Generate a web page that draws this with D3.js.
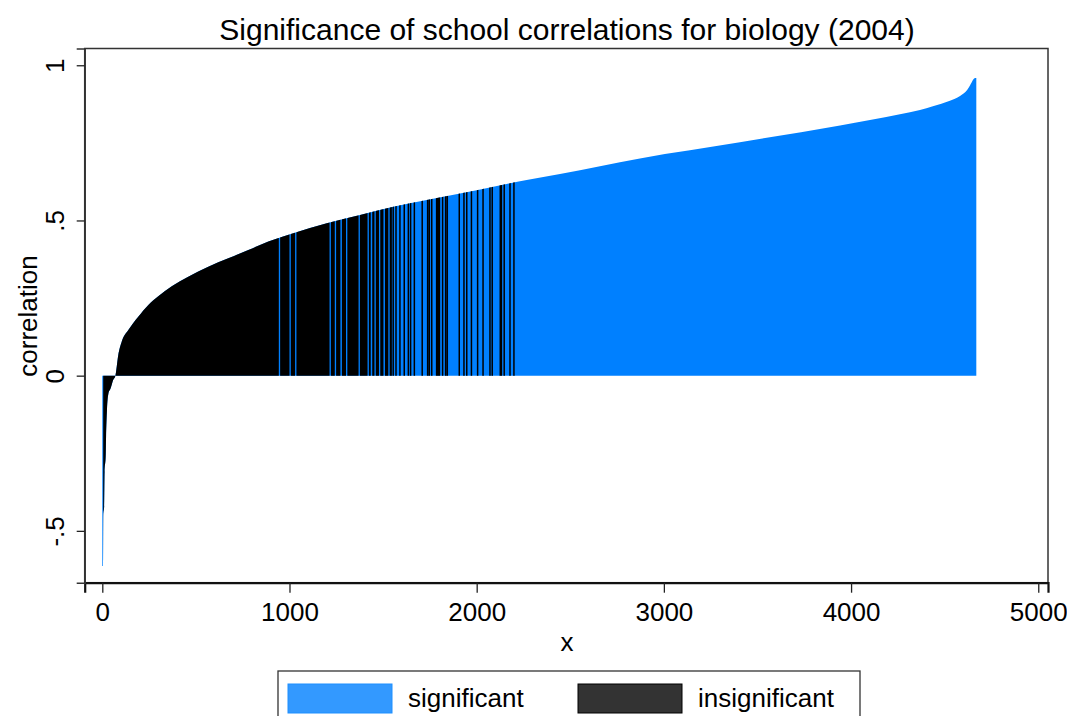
<!DOCTYPE html>
<html><head><meta charset="utf-8">
<script src="https://cdn.jsdelivr.net/npm/d3@7"></script>
<style>
body{margin:0;background:#fff}
svg{display:block}
text{font-family:Arial,"Liberation Sans",sans-serif;fill:#000}
</style>
</head><body>
<svg id="chart" width="1067" height="716"></svg>
<script>
// ---- data ----
const titleText = "Significance of school correlations for biology (2004)";
const xTitle = "x";
const yTitle = "correlation";

// sorted correlations: school rank -> correlation (outline of the bars)
const curveRanks  = [0, 4, 5, 10, 12, 18, 20, 25, 32, 45, 58, 70,
  85, 104, 139, 192, 246, 299, 371, 459, 566, 673, 780, 887, 1020, 1199,
  1377, 1554, 1733, 1911, 2089, 2267, 2445, 2872, 3406, 3941, 4261, 4368,
  4437, 4528, 4582, 4620, 4636, 4663, 4669];
const curveValues = [-0.613, -0.613, -0.45, -0.42, -0.31, -0.26, -0.20, -0.11, -0.06, -0.04, -0.014, 0.0,
  0.065, 0.11, 0.147, 0.19, 0.228, 0.256, 0.288, 0.319, 0.351, 0.378, 0.405, 0.432, 0.459, 0.491,
  0.518, 0.544, 0.566, 0.587, 0.609, 0.63, 0.65, 0.70, 0.752, 0.806, 0.842, 0.856,
  0.868, 0.886, 0.901, 0.92, 0.936, 0.959, 0.959];

// ranges of ranks whose correlation is insignificant (drawn black)
const insignificantStart = [5, 950, 1007, 1037, 1221, 1249, 1280, 1309, 1376, 1424, 1442, 1461, 1485, 1510, 1535,
  1550, 1565, 1586, 1609, 1631, 1643, 1663, 1705, 1734, 1743, 1756, 1782, 1814, 1830, 1839,
  1903, 1928, 1943, 1968, 2001, 2030, 2067, 2079, 2122, 2143, 2174, 2195];
const insignificantEnd   = [943, 1000, 1030, 1214, 1242, 1272, 1302, 1369, 1417, 1434, 1454, 1478, 1502, 1528, 1547,
  1558, 1573, 1594, 1617, 1639, 1651, 1671, 1713, 1742, 1751, 1764, 1805, 1822, 1838, 1847,
  1911, 1936, 1951, 1976, 2009, 2038, 2075, 2087, 2136, 2151, 2182, 2203];

const xTickValues = [0, 1000, 2000, 3000, 4000, 5000];
const yTickValues = [-0.5, 0, 0.5, 1];
const yTickLabels = ["-.5", "0", ".5", "1"];
const legendLabels = ["significant", "insignificant"];
const legendColors = ["#3399ff", "#333333"];

// ---- chart ----
const svg = d3.select("#chart");
const plot = {left: 84.7, right: 1048, top: 48.5, bottom: 582.7};
const BLUE = "#0080ff";

const x = d3.scaleLinear().domain([-94, 5052]).range([plot.left, plot.right]);
const y = d3.scaleLinear().domain([-0.667, 1.054]).range([plot.bottom, plot.top]);

const curve = curveRanks.map((r, i) => ({r, v: curveValues[i]}));
const area = d3.area()
  .x(d => x(d.r))
  .y0(y(0))
  .y1(d => y(d.v))
  .curve(d3.curveMonotoneX);

const defs = svg.append("defs");
const clip = defs.append("clipPath").attr("id", "insig");
clip.selectAll("rect")
  .data(insignificantStart.map((s, i) => [s, insignificantEnd[i]]))
  .join("rect")
  .attr("x", d => x(d[0]))
  .attr("width", d => x(d[1]) - x(d[0]))
  .attr("y", plot.top)
  .attr("height", plot.bottom - plot.top);

svg.append("path").datum(curve)
  .attr("d", area).attr("fill", BLUE);
svg.append("path").datum(curve)
  .attr("d", area).attr("fill", "#000").attr("clip-path", "url(#insig)");

// frame
svg.append("rect")
  .attr("x", plot.left).attr("y", plot.top)
  .attr("width", plot.right - plot.left).attr("height", plot.bottom - plot.top)
  .attr("fill", "none").attr("stroke", "#333").attr("stroke-width", 1.5);

// x axis
const xAxis = svg.append("g")
  .attr("transform", `translate(0,${plot.bottom})`)
  .call(d3.axisBottom(x).tickValues(xTickValues).tickFormat(d3.format("d")).tickSize(10).tickPadding(10));
xAxis.select(".domain").attr("stroke", "#111").attr("stroke-width", 2.2);
xAxis.selectAll(".tick line").attr("stroke", "#222").attr("stroke-width", 1.3);
xAxis.selectAll("text").attr("font-size", 26).attr("font-family", "Arial, 'Liberation Sans', sans-serif").attr("fill", "#000");

// y axis
const yAxis = svg.append("g")
  .attr("transform", `translate(${plot.left},0)`)
  .call(d3.axisLeft(y).tickValues(yTickValues).tickFormat((d, i) => yTickLabels[i]).tickSize(8));
yAxis.select(".domain").attr("stroke", "#333").attr("stroke-width", 1.5);
yAxis.selectAll(".tick line").attr("stroke", "#222").attr("stroke-width", 1.3);
yAxis.selectAll("text")
  .attr("font-size", 26).attr("font-family", "Arial, 'Liberation Sans', sans-serif").attr("fill", "#000")
  .attr("x", null).attr("dy", null)
  .attr("text-anchor", "middle")
  .attr("transform", "translate(-30,0) rotate(-90)")
  .attr("dy", "0.36em");

// titles
svg.append("text").attr("x", 567).attr("y", 40)
  .attr("text-anchor", "middle").attr("font-size", 30).text(titleText);
svg.append("text").attr("x", 567).attr("y", 651)
  .attr("text-anchor", "middle").attr("font-size", 26).text(xTitle);
svg.append("text")
  .attr("transform", "translate(37,316) rotate(-90)")
  .attr("text-anchor", "middle").attr("font-size", 26).text(yTitle);

// legend
const lg = svg.append("g");
lg.append("rect").attr("x", 278).attr("y", 671).attr("width", 582).attr("height", 60)
  .attr("fill", "#fff").attr("stroke", "#333").attr("stroke-width", 1.3);
const legendX = [288, 578];
legendLabels.forEach((lab, i) => {
  lg.append("rect").attr("x", legendX[i]).attr("y", 684).attr("width", 104).attr("height", 29)
    .attr("fill", legendColors[i]).attr("stroke", i === 0 ? "#1f8fff" : "#000").attr("stroke-width", 1);
  lg.append("text").attr("x", legendX[i] + 120).attr("y", 707).attr("font-size", 26).text(lab);
});
</script>
</body></html>
